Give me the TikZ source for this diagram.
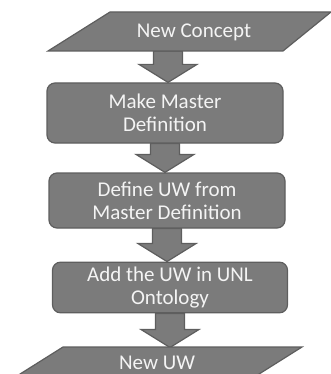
\documentclass[tikz,border=0pt]{standalone}
\usepackage{fontspec}
\setmainfont{Carlito}
\usetikzlibrary{calc,backgrounds}
\definecolor{boxgray}{HTML}{7B7B7B}
\definecolor{edgegray}{HTML}{5E5E5E}
\definecolor{txtwhite}{HTML}{F4F4F4}
\newcommand\blockarrow[2]{%
  \path[shapefill] let \p1=(#1), \p2=(#2) in
    (\x1-10.9pt,\y1) -- (\x1+10.9pt,\y1) -- (\x1+10.9pt,\y2+13.5pt) --
    (\x1+21.75pt,\y2+13.5pt) -- (\x1,\y2) -- (\x1-21.75pt,\y2+13.5pt) --
    (\x1-10.9pt,\y2+13.5pt) -- cycle;}
\begin{document}
\begin{tikzpicture}[x=0.75pt,y=-0.75pt,
  shapefill/.style={fill=boxgray, draw=edgegray, line width=0.9pt, line join=miter},
  lbl/.style={text=txtwhite, align=center, font=\fontsize{15.75}{17.25}\selectfont, inner sep=0pt},
  stepbox/.style={shapefill, lbl, rounded corners=6pt, minimum width=177pt},
  ]
\useasboundingbox (0,0) rectangle (331,374);
\clip (0,0) rectangle (331,374);
% top parallelogram
\path[shapefill] (110,12) -- (331,12) -- (283,51) -- (48,51) -- cycle;
\node[lbl] (c1) at (194,32) {New Concept};
\coordinate (p1s) at (168,51);
% boxes
\node[stepbox, minimum height=45pt] (b1) at (165,113) {Make Master\\Definition};
\node[stepbox, minimum height=41.25pt] (b2) at (167,200.5) {Define UW from\\Master Definition};
\node[stepbox, minimum height=38pt, minimum width=176.25pt] (b3) at (170,287.5) {Add the UW in UNL\\Ontology};
% bottom parallelogram
\path[shapefill] (63,347) -- (302,347) -- (240,386) -- (1,386) -- cycle;
\node[lbl] (u) at (157,363) {New UW};
\coordinate (p2n) at (167,347.5);
% block arrows
\begin{scope}[on background layer]
\blockarrow{p1s}{b1.north}
\blockarrow{b1.south}{b2.north}
\blockarrow{b2.south}{b3.north}
\blockarrow{b3.south}{p2n}
\end{scope}
\end{tikzpicture}
\end{document}
